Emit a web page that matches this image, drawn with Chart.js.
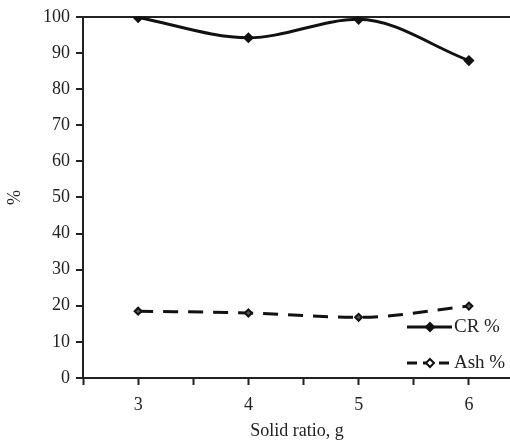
<!DOCTYPE html>
<html>
<head>
<meta charset="utf-8">
<script src="https://cdn.jsdelivr.net/npm/chart.js@4.4.0/dist/chart.umd.min.js"></script>
<style>
  html, body { margin: 0; padding: 0; background: #fff; overflow: hidden; }
  #wrap { width: 510px; height: 446px; overflow: hidden; }
</style>
</head>
<body>
<div id="wrap"><canvas id="myChart" width="518" height="446"></canvas></div>
<script>
// data
const ratios = [3, 4, 5, 6];
const crValues = [99.8, 94.2, 99.3, 87.9];
const ashValues = [18.5, 18.0, 16.8, 19.9];
const seriesNames = ['CR %', 'Ash %'];
const yTicks = [0, 10, 20, 30, 40, 50, 60, 70, 80, 90, 100];
const xTicks = [2.5, 3, 3.5, 4, 4.5, 5, 5.5, 6];

const font = { family: '"Liberation Serif", "DejaVu Serif", serif', size: 18 };

// legend drawn inside the plot, bottom right
const innerLegend = {
  id: 'innerLegend',
  afterDraw(chart) {
    const ctx = chart.ctx;
    const rows = [{ y: 327, dash: [] }, { y: 363, dash: [10, 6] }];
    ctx.save();
    chart.data.datasets.forEach((ds, i) => {
      const r = rows[i];
      ctx.strokeStyle = '#111';
      ctx.lineWidth = 3;
      ctx.setLineDash(r.dash);
      ctx.beginPath();
      ctx.moveTo(407, r.y);
      ctx.lineTo(452, r.y);
      ctx.stroke();
      ctx.setLineDash([]);
      ctx.lineWidth = 2;
      ctx.fillStyle = i === 0 ? '#111' : '#fff';
      ctx.beginPath();
      ctx.moveTo(430, r.y - 4);
      ctx.lineTo(434, r.y);
      ctx.lineTo(430, r.y + 4);
      ctx.lineTo(426, r.y);
      ctx.closePath();
      ctx.fill();
      ctx.stroke();
      ctx.fillStyle = '#222';
      ctx.font = '19px ' + font.family;
      ctx.textBaseline = 'middle';
      ctx.fillText(ds.label, 454, r.y);
    });
    ctx.restore();
  }
};

const xMax = 2.5 + 427 / 110;

new Chart(document.getElementById('myChart'), {
  type: 'line',
  data: {
    datasets: [
      {
        label: seriesNames[0],
        data: ratios.map((x, i) => ({ x: x, y: crValues[i] })),
        borderColor: '#111',
        backgroundColor: '#111',
        borderWidth: 3,
        tension: 0.4,
        cubicInterpolationMode: 'monotone',
        pointStyle: 'rectRot',
        pointRadius: 3.5,
        pointBorderColor: '#111',
        pointBackgroundColor: '#111'
      },
      {
        label: seriesNames[1],
        data: ratios.map((x, i) => ({ x: x, y: ashValues[i] })),
        borderColor: '#111',
        backgroundColor: '#fff',
        borderWidth: 3,
        borderDash: [15, 10],
        tension: 0.4,
        cubicInterpolationMode: 'monotone',
        pointStyle: 'rectRot',
        pointRadius: 3.5,
        pointBorderWidth: 2,
        pointBorderColor: '#111',
        pointBackgroundColor: '#555'
      }
    ]
  },
  options: {
    responsive: false,
    animation: false,
    layout: { padding: { top: 12, right: 0, left: 0, bottom: 0 } },
    plugins: {
      legend: { display: false },
      tooltip: { enabled: false }
    },
    scales: {
      x: {
        type: 'linear',
        min: 2.5,
        max: xMax,
        afterFit: (s) => { s.height = 68; s.paddingRight = 0; s.paddingLeft = 0; },
        afterBuildTicks: (s) => { s.ticks = xTicks.concat([xMax]).map(v => ({ value: v })); },
        border: { display: true, color: '#222', width: 2 },
        grid: {
          drawOnChartArea: false,
          drawTicks: true,
          tickLength: 7,
          tickColor: (c) => (c.tick && c.tick.value === xMax ? 'rgba(0,0,0,0)' : '#222'),
          tickWidth: 2
        },
        ticks: {
          color: '#222',
          font: font,
          padding: 9,
          autoSkip: false,
          maxRotation: 0,
          callback: (v) => (Number.isInteger(v) ? v : '')
        },
        title: { display: true, text: 'Solid ratio, g', color: '#222', font: font, padding: { top: 4 } }
      },
      y: {
        min: 0,
        max: 100,
        afterFit: (s) => { s.width = 83; },
        afterBuildTicks: (s) => { s.ticks = yTicks.map(v => ({ value: v })); },
        border: { display: true, color: '#222', width: 2 },
        grid: {
          drawOnChartArea: true,
          color: (c) => (c.tick && c.tick.value === 100 ? '#222' : 'rgba(0,0,0,0)'),
          lineWidth: 2,
          drawTicks: true,
          tickLength: 7,
          tickColor: '#222',
          tickWidth: 2
        },
        ticks: { color: '#222', font: font, padding: 6 },
        title: { display: true, text: '%', color: '#222', font: font, padding: { top: 4, bottom: 4 } }
      }
    }
  },
  plugins: [innerLegend]
});
</script>
</body>
</html>
